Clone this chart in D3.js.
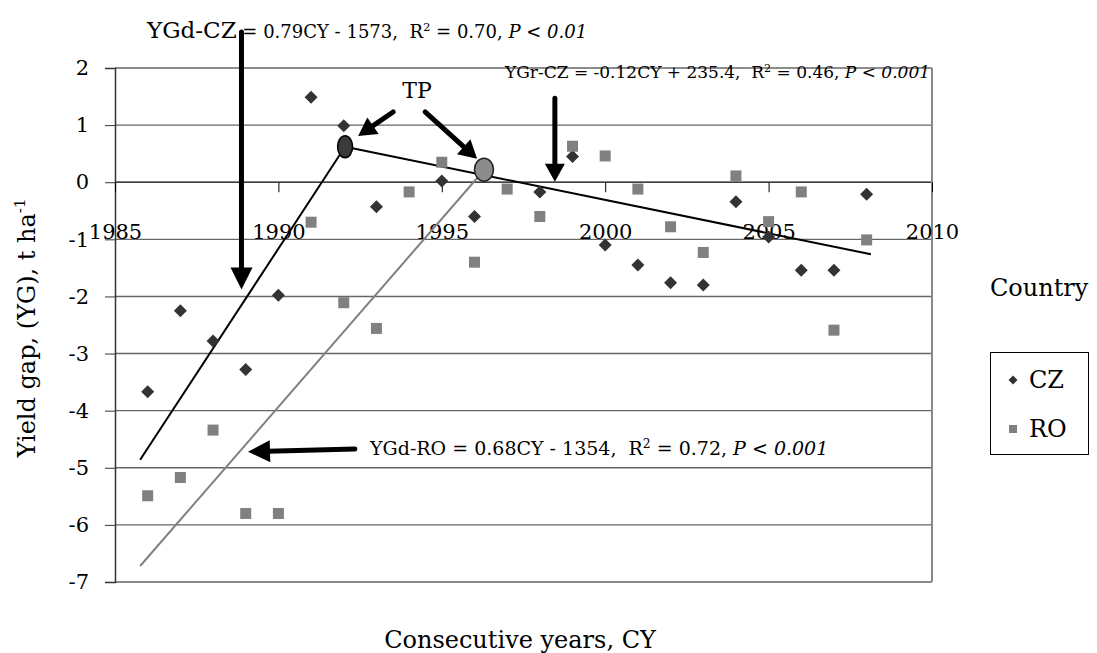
<!DOCTYPE html>
<html><head><meta charset="utf-8">
<script src="https://cdn.jsdelivr.net/npm/d3@7"></script>
<style>
html,body{margin:0;padding:0;background:#fff;}
svg{display:block;font-family:"DejaVu Serif",serif;}
</style></head>
<body><svg id="c" width="1097" height="653"></svg>
<script>
const years = d3.range(1986, 2009);
const czValues = [-3.67,-2.25,-2.78,-3.28,-1.98,1.49,0.99,-0.43,null,0.02,-0.60,null,-0.17,0.45,-1.10,-1.45,-1.76,-1.80,-0.34,-0.96,-1.54,-1.54,-0.21];
const roValues = [-5.49,-5.17,-4.34,-5.80,-5.80,-0.70,-2.11,-2.56,-0.17,0.35,-1.40,-0.12,-0.60,0.63,0.46,-0.12,-0.78,-1.23,0.11,-0.69,-0.17,-2.59,-1.01];
const xTicks = [1985,1990,1995,2000,2005,2010];
const yTicks = [2,1,0,-1,-2,-3,-4,-5,-6,-7];
const seriesNames = ["CZ","RO"];
// drawn trend segments [year, value]
const czRise = [[1985.77,-4.86],[1992.04,0.62]];
const czFall = [[1992.04,0.62],[2008.13,-1.26]];
const roRise = [[1985.77,-6.72],[1996.29,0.21]];
const turningPoints = [[1992.04,0.62],[1996.29,0.22]];
// annotation arrows: [from, to] in [year, value]
const arrows = [
  [[1988.87,2.63],[1988.87,-1.88]],
  [[1993.51,1.23],[1992.44,0.81]],
  [[1994.49,1.23],[1996.08,0.41]],
  [[1998.46,1.47],[1998.46,0.01]],
  [[1992.34,-4.67],[1989.07,-4.72]]
];

const svg = d3.select("#c");
svg.append("rect").attr("width",1097).attr("height",653).attr("fill","#fff");
const x = d3.scaleLinear().domain([1985,2010]).range([115,932]);
const y = d3.scaleLinear().domain([-7,2]).range([582,68]);

// gridlines
svg.append("g").selectAll("line").data(yTicks).join("line")
  .attr("x1",x(1985)).attr("x2",x(2010))
  .attr("y1",d=>y(d)).attr("y2",d=>y(d))
  .attr("stroke",d=>d===0?"#000":"#666").attr("stroke-width",d=>d===0?1.2:1.4);
// right border
svg.append("line").attr("x1",x(2010)).attr("x2",x(2010)).attr("y1",y(2)).attr("y2",y(-7))
  .attr("stroke","#888").attr("stroke-width",2);

// y axis
const ya = svg.append("g").attr("transform",`translate(${x(1985)},0)`)
  .call(d3.axisLeft(y).tickValues(yTicks).tickSize(10).tickPadding(16).tickFormat(d=>String(d)));
ya.select(".domain").attr("stroke","#333").attr("stroke-width",1.5);
ya.selectAll(".tick line").attr("stroke","#333");
ya.selectAll(".tick text").attr("font-family","DejaVu Serif").attr("font-size",21).attr("fill","#000");

// x axis at y=0
const xa = svg.append("g").attr("transform",`translate(0,${y(0)})`)
  .call(d3.axisBottom(x).tickValues(xTicks).tickSize(10).tickFormat(d=>String(d)));
xa.select(".domain").remove();
xa.selectAll(".tick line").attr("stroke","#000");
xa.selectAll(".tick text").attr("font-family","DejaVu Serif").attr("font-size",21).attr("fill","#000")
  .attr("y",57).attr("dy",0);

// trend lines
const line = d3.line().x(d=>x(d[0])).y(d=>y(d[1]));
svg.append("path").attr("d",line(roRise)).attr("fill","none").attr("stroke","#808080").attr("stroke-width",2);
svg.append("path").attr("d",line(czRise)).attr("fill","none").attr("stroke","#000").attr("stroke-width",2);
svg.append("path").attr("d",line(czFall)).attr("fill","none").attr("stroke","#000").attr("stroke-width",2);

// points
const D = 6.5, S = 11;
const diamond = `M0,${-D}L${D},0L0,${D}L${-D},0Z`;
svg.append("g").selectAll("path").data(years.map((yr,i)=>[yr,czValues[i]]).filter(d=>d[1]!==null)).join("path")
  .attr("d",diamond).attr("transform",d=>`translate(${x(d[0])},${y(d[1])})`).attr("fill","#333");
svg.append("g").selectAll("rect").data(years.map((yr,i)=>[yr,roValues[i]]).filter(d=>d[1]!==null)).join("rect")
  .attr("x",d=>x(d[0])-S/2).attr("y",d=>y(d[1])-S/2).attr("width",S).attr("height",S).attr("fill","#808080");

// turning points
svg.append("ellipse").attr("cx",x(turningPoints[0][0])).attr("cy",y(turningPoints[0][1]))
  .attr("rx",7.5).attr("ry",11).attr("fill","#3a3a3a").attr("stroke","#000").attr("stroke-width",1.5);
svg.append("ellipse").attr("cx",x(turningPoints[1][0])).attr("cy",y(turningPoints[1][1]))
  .attr("rx",9.5).attr("ry",11.5).attr("fill","#8c8c8c").attr("stroke","#222").attr("stroke-width",1.5);

// arrows
arrows.forEach(([a,b])=>{
  const x1=x(a[0]),y1=y(a[1]),x2=x(b[0]),y2=y(b[1]);
  const len=Math.hypot(x2-x1,y2-y1), ux=(x2-x1)/len, uy=(y2-y1)/len;
  const hl = len>100?22:18, hw = len>100?11:10;
  const bx=x2-ux*hl, by=y2-uy*hl;
  svg.append("line").attr("x1",x1).attr("y1",y1).attr("x2",bx+ux*2).attr("y2",by+uy*2)
    .attr("stroke","#000").attr("stroke-width",5).attr("stroke-linecap","round");
  svg.append("path").attr("d",`M${x2},${y2}L${bx-uy*hw},${by+ux*hw}L${bx+uy*hw},${by-ux*hw}Z`).attr("fill","#000");
});

// equations
function eq(xp, yp, size, headSize, head, rest, r2, pval){
  const t = svg.append("text").attr("x",xp).attr("y",yp).attr("font-size",size).attr("fill","#000").attr("xml:space","preserve");
  t.append("tspan").attr("font-size",headSize).text(head);
  t.append("tspan").text(" = "+rest+",  R");
  t.append("tspan").attr("font-size",size*0.65).attr("dy",-size*0.38).text("2");
  t.append("tspan").attr("dy",size*0.38).text(" = "+r2+", ");
  t.append("tspan").attr("font-style","italic").text("P < "+pval);
}
eq(147, 38, 18, 23, "YGd-CZ", "0.79CY - 1573", "0.70", "0.01");
eq(505, 78, 17, 17, "YGr-CZ", "-0.12CY + 235.4", "0.46", "0.001");
eq(370, 455, 19, 19, "YGd-RO", "0.68CY - 1354", "0.72", "0.001");
svg.append("text").attr("x",417).attr("y",98).attr("text-anchor","middle").attr("font-size",22).text("TP");

// axis titles
svg.append("text").attr("x",520).attr("y",648).attr("text-anchor","middle").attr("font-size",24).text("Consecutive years, CY");
const yt = svg.append("text").attr("transform","translate(35,328) rotate(-90)").attr("text-anchor","middle").attr("font-size",24);
yt.append("tspan").text("Yield gap, (YG), t ha");
yt.append("tspan").attr("font-size",15).attr("dy",-10).text("-1");

// legend
svg.append("text").attr("x",990).attr("y",296).attr("font-size",24).text("Country");
svg.append("rect").attr("x",990.5).attr("y",352.5).attr("width",98).attr("height",102).attr("fill","none").attr("stroke","#000");
const lg = svg.append("g").selectAll("g").data(seriesNames).join("g")
  .attr("transform",(d,i)=>`translate(1013,${380+i*49})`);
lg.filter((d,i)=>i===0).append("path").attr("d",`M0,-4.5L4.5,0L0,4.5L-4.5,0Z`).attr("fill","#333");
lg.filter((d,i)=>i===1).append("rect").attr("x",-4).attr("y",-4).attr("width",8).attr("height",8).attr("fill","#808080");
lg.append("text").attr("x",16).attr("y",8).attr("font-size",24).text(d=>d);
</script></body></html>
